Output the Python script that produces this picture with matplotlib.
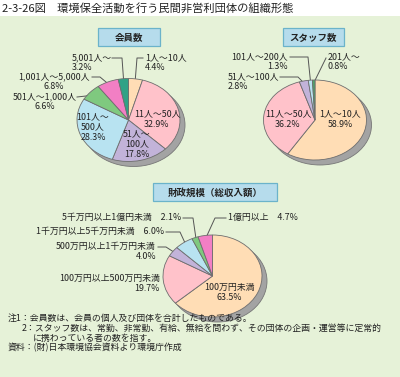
import numpy as np
import matplotlib
matplotlib.use('Agg')
import matplotlib.pyplot as plt
from matplotlib.patches import Rectangle, Ellipse

plt.rcParams['font.family'] = ['Noto Sans CJK JP', 'DejaVu Sans']

# data
member_labels = ['1人〜10人', '11人〜50人', '51人〜100人', '101人〜500人',
                 '501人〜1,000人', '1,001人〜5,000人', '5,001人〜']
member_values = [4.4, 32.9, 17.8, 28.3, 6.6, 6.8, 3.2]

staff_labels = ['1人〜10人', '11人〜50人', '51人〜100人', '101人〜200人', '201人〜']
staff_values = [58.9, 36.2, 2.8, 1.3, 0.8]

money_labels = ['100万円未満', '100万円以上500万円未満', '500万円以上1千万円未満',
                '1千万円以上5千万円未満', '5千万円以上1億円未満', '1億円以上']
money_values = [63.5, 19.7, 4.0, 6.0, 2.1, 4.7]

W, H = 400, 377
TXT = '#222222'
LINE = '#555555'

fig = plt.figure(figsize=(W / 100, H / 100), dpi=100)
fig.patch.set_facecolor('white')

# background overlay in pixel coords
bg = fig.add_axes([0, 0, 1, 1])
bg.set_xlim(0, W)
bg.set_ylim(H, 0)
bg.axis('off')
bg.add_patch(Rectangle((0, 16), W, H - 16, facecolor='#E6F2D8', edgecolor='none'))
bg.text(2, 8, '2-3-26図　環境保全活動を行う民間非営利団体の組織形態',
        fontsize=8.1, color=TXT, va='center', ha='left')

# title boxes
for (x0, y0, x1, y1, t) in [(98, 28, 160, 46, '会員数'),
                            (283, 28, 344, 46, 'スタッフ数'),
                            (153, 183, 277, 201, '財政規模（総収入額）')]:
    bg.add_patch(Rectangle((x0, y0), x1 - x0, y1 - y0, facecolor='#B6DCEC',
                           edgecolor='#6BB3CA', linewidth=0.9))
    bg.text((x0 + x1) / 2, (y0 + y1) / 2 + 0.5, t, fontsize=6.8, fontweight='bold',
            color=TXT, ha='center', va='center')


def draw_pie(cx, cy, rx, ry, values, colors):
    pad = 1.25
    ax = fig.add_axes([(cx - rx * pad) / W, 1 - (cy + ry * pad) / H,
                       2 * rx * pad / W, 2 * ry * pad / H])
    ax.add_patch(Ellipse((5.0 / rx, -5.0 / ry), 2, 2, facecolor='#A3A3A3',
                         edgecolor='#777777', linewidth=0.6, zorder=0))
    ax.pie(values, colors=colors, startangle=90, counterclock=False, radius=1,
           wedgeprops=dict(edgecolor='#6E6E6E', linewidth=0.6))
    ax.set_aspect('auto')
    ax.set_xlim(-pad, pad)
    ax.set_ylim(-pad, pad)
    ax.axis('off')
    return ax


def edge_point(cx, cy, rx, ry, values, i, r=0.93):
    cum = np.cumsum([0] + list(values))
    mid = (cum[i] + cum[i + 1]) / 2 / cum[-1] * 2 * np.pi
    return cx + r * rx * np.sin(mid), cy - r * ry * np.cos(mid)


PEACH, PINK, LAV, LBLUE = '#FFDDB5', '#FFC2CA', '#C2B3D9', '#B8E3F1'
GREEN, MAG, TEAL = '#7FC97F', '#F27FC4', '#2FA286'

p1 = (128.5, 120, 51.5, 41.5)
p2 = (315, 120, 51.5, 40)
p3 = (212.5, 276, 49.5, 41)

draw_pie(*p1, member_values, [PEACH, PINK, LAV, LBLUE, GREEN, MAG, TEAL])
draw_pie(*p2, staff_values, [PEACH, PINK, LAV, LBLUE, '#4FA56A'])
draw_pie(*p3, money_values, [PEACH, PINK, LAV, LBLUE, GREEN, MAG])

fs = 6.4

# outside labels with leader lines: (pie, values, index, text, x, y, ha, elbow path)
outside = [
    (p1, member_values, 0, f'{member_labels[0]}\n{member_values[0]}%', 145, 58, 'left', [(143, 58), (137, 58)]),
    (p1, member_values, 6, f'{member_labels[6]}\n{member_values[6]}%', 72, 58, 'left', [(112, 58), (122, 58)]),
    (p1, member_values, 5, f'{member_labels[5]}\n{member_values[5]}%', 54, 77, 'center', [(92, 77), (100, 77)]),
    (p1, member_values, 4, f'{member_labels[4]}\n{member_values[4]}%', 45, 97, 'center', [(77, 97), (86, 96)]),
    (p2, staff_values, 3, f'{staff_labels[3]}\n{staff_values[3]}%', 288, 57, 'right', [(290, 57), (308, 57)]),
    (p2, staff_values, 4, f'{staff_labels[4]}\n{staff_values[4]}%', 328, 57, 'left', [(326, 58)]),
    (p2, staff_values, 2, f'{staff_labels[2]}\n{staff_values[2]}%', 228, 77, 'left', [(280, 77), (298, 77)]),
    (p3, money_values, 4, f'{money_labels[4]}　{money_values[4]}%', 181, 218, 'right', [(183, 218), (193, 218)]),
    (p3, money_values, 3, f'{money_labels[3]}　{money_values[3]}%', 164, 232, 'right', [(166, 232), (180, 232)]),
    (p3, money_values, 2, f'{money_labels[2]}\n{money_values[2]}%', 156, 247, 'right', [(158, 247), (166, 247)]),
    (p3, money_values, 5, f'{money_labels[5]}　{money_values[5]}%', 228, 218, 'left', [(226, 218), (215, 218)]),
]
for pie, vals, i, text, x, y, ha, path in outside:
    ex, ey = edge_point(*pie, vals, i)
    pts = path + [(ex, ey)]
    bg.plot([p[0] for p in pts], [p[1] for p in pts], color=LINE, linewidth=0.7)
    bg.text(x, y - 5, text, fontsize=fs, color=TXT, ha=ha, va='top',
            multialignment=ha, linespacing=1.15)

# label without leader
bg.text(160, 274, f'{money_labels[1]}\n{money_values[1]}%', fontsize=fs, color=TXT,
        ha='right', va='top', multialignment='right', linespacing=1.15)

# inside labels on top overlay
top = fig.add_axes([0, 0, 1, 1])
top.set_xlim(0, W)
top.set_ylim(H, 0)
top.axis('off')
inside = [
    (157, 119, f'{member_labels[1]}\n{member_values[1]}%'),
    (137, 144, '51人〜\n100人\n' + f'{member_values[2]}%'),
    (93, 127, '101人〜\n500人\n' + f'{member_values[3]}%'),
    (340, 119, f'{staff_labels[0]}\n{staff_values[0]}%'),
    (288, 119, f'{staff_labels[1]}\n{staff_values[1]}%'),
    (229, 292, f'{money_labels[0]}\n{money_values[0]}%'),
]
for x, y, t in inside:
    top.text(x, y, t, fontsize=fs, color=TXT, ha='center', va='center', linespacing=1.15)

# notes
notes = [
    (8, 318, '注1：会員数は、会員の個人及び団体を合計したものである。'),
    (22, 328, '2：スタッフ数は、常勤、非常勤、有給、無給を問わず、その団体の企画・運営等に定常的'),
    (33, 338, 'に携わっている者の数を指す。'),
    (8, 348, '資料：(財)日本環境協会資料より環境庁作成'),
]
for x, y, t in notes:
    top.text(x, y, t, fontsize=6.4, color=TXT, ha='left', va='center')

fig.savefig('out.png', dpi=100)
